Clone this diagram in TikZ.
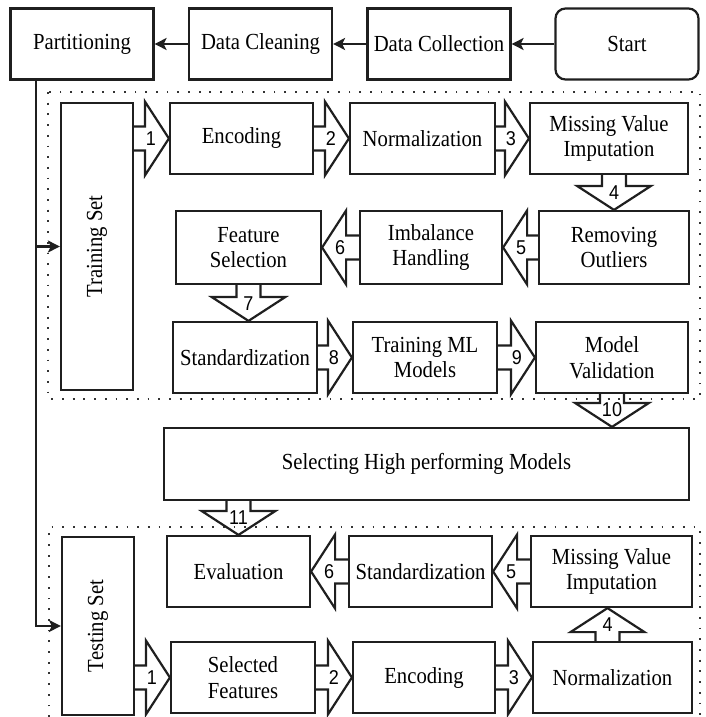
\documentclass[tikz,border=0pt]{standalone}
\usepackage{fontspec}
\setmainfont[FakeStretch=0.9]{Liberation Serif}
\newfontfamily\numfont[FakeStretch=0.9]{Liberation Sans}
\usepackage{tikz}
\usetikzlibrary{arrows.meta,calc,positioning}

\begin{document}
\begin{tikzpicture}[x=1pt,y=-1pt]
      \tikzstyle{box}=[draw=black!88, line width=2.2pt, minimum width=143pt, minimum height=71pt, inner sep=0pt, align=center, font=\rmfamily\fontsize{23}{25.5}\selectfont]
      \tikzstyle{start_box}=[box, rounded corners=10pt]
      \tikzstyle{set_box}=[box, minimum width=72pt]
      \tikzstyle{flow_line}=[draw=black!88, line width=2.2pt, -{Stealth[length=12pt,width=12pt,inset=3pt]}]
      \tikzstyle{frame}=[draw=black!80, line width=1.8pt, dash pattern=on 1.8pt off 8.9pt]
      \tikzstyle{num_text}=[inner sep=0pt, font=\numfont\fontsize{20}{20}\selectfont]
      \tikzstyle{fat_base}=[draw=black!88, line width=2.2pt, line join=miter]
      \tikzset{
        fat_right/.style={fat_base, to path={let \p1=(\tikztostart), \p2=(\tikztotarget) in
          (\x1,\y1+12pt) -- (\x2-24pt,\y1+12pt) -- (\x2-24pt,\y1+37pt) -- (\x2,\y1)
          -- (\x2-24pt,\y1-37pt) -- (\x2-24pt,\y1-12pt) -- (\x1,\y1-12pt)
          node[num_text] at (\x2-18pt,\y1) {#1}}},
        fat_left/.style={fat_base, to path={let \p1=(\tikztostart), \p2=(\tikztotarget) in
          (\x1,\y1+12pt) -- (\x2+24pt,\y1+12pt) -- (\x2+24pt,\y1+37pt) -- (\x2,\y1)
          -- (\x2+24pt,\y1-37pt) -- (\x2+24pt,\y1-12pt) -- (\x1,\y1-12pt)
          node[num_text] at (\x2+18pt,\y1) {#1}}},
        fat_down/.style={fat_base, to path={let \p1=(\tikztostart), \p2=(\tikztotarget) in
          (\x1-12pt,\y1) -- (\x1-12pt,\y2+24pt) -- (\x1-37pt,\y2+24pt) -- (\x1,\y2)
          -- (\x1+37pt,\y2+24pt) -- (\x1+12pt,\y2+24pt) -- (\x1+12pt,\y1)
          node[num_text] at (\x1,\y2+17pt) {#1}}},
        fat_up/.style={fat_base, to path={let \p1=(\tikztostart), \p2=(\tikztotarget) in
          (\x1-12pt,\y1) -- (\x1-12pt,\y2-24pt) -- (\x1-37pt,\y2-24pt) -- (\x1,\y2)
          -- (\x1+37pt,\y2-24pt) -- (\x1+12pt,\y2-24pt) -- (\x1+12pt,\y1)
          node[num_text] at (\x1,\y2-17pt) {#1}}}
      }

      \useasboundingbox (0,0) rectangle (705,717);

      % dotted frames
      \draw[frame] (48,92) rectangle (700,399);
      \draw[frame] (49,717) -- (49,527) -- (700,527) -- (700,717);

      % top row
      \node (part) [box] at (82,44) {Partitioning};
      \node (clean) [box] at (260.5,44) {Data Cleaning};
      \node (collect) [box] at (439,44) {Data Collection};
      \node (start) [start_box] at (627,44) {Start};

      \draw[flow_line] (start.west) -- (collect.east);
      \draw[flow_line] (collect.west) -- (clean.east);
      \draw[flow_line] (clean.west) -- (part.east);

      % training set
      \node (trainset) [set_box, minimum height=287pt] at (97,246.5) {\rotatebox{90}{Training Set}};
      \node (enc) [box] at (241.5,138.5) {Encoding};
      \node (norm) [box, minimum width=145pt] at (422.5,138.5) {Normalization};
      \node (mvi) [box, minimum width=158pt] at (609,138.5) {Missing Value\\Imputation};
      \node (fs) [box, minimum width=145pt, minimum height=73pt] at (248.5,247.5) {Feature\\Selection};
      \node (imb) [box, minimum width=142pt, minimum height=73pt] at (431,247.5) {Imbalance\\Handling};
      \node (ro) [box, minimum width=150pt, minimum height=73pt] at (614,247.5) {Removing\\Outliers};
      \node (std) [box, minimum width=144pt] at (245,357.5) {Standardization};
      \node (tml) [box, minimum width=144pt] at (425,357.5) {Training ML\\Models};
      \node (mv) [box, minimum width=152pt] at (612,357.5) {Model\\Validation};

      \node (sel) [box, minimum width=525pt, minimum height=72pt] at (426.5,464) {Selecting High performing Models};

      % testing set
      \node (testset) [set_box, minimum height=178pt] at (98,626) {\rotatebox{90}{Testing Set}};
      \node (ev) [box] at (238.5,571.5) {Evaluation};
      \node (tstd) [box] at (420.5,571.5) {Standardization};
      \node (tmvi) [box, minimum width=161pt] at (611.5,571.5) {Missing Value\\Imputation};
      \node (sf) [box, minimum width=144pt] at (243,677.5) {Selected\\Features};
      \node (tenc) [box, minimum width=142pt] at (424,677.5) {Encoding};
      \node (tnorm) [box, minimum width=159pt] at (612.5,677.5) {Normalization};

      % split of the data
      \coordinate (trunk) at (36,80);
      \draw[flow_line] (trunk) |- (trainset.west);
      \draw[flow_line] (trunk) |- (testset.west);

      % training steps
      \draw[fat_right=1] (trainset.east |- enc.west) to (enc.west);
      \draw[fat_right=2] (enc.east) to (norm.west);
      \draw[fat_right=3] (norm.east) to (mvi.west);
      \draw[fat_down=4] (ro.north |- mvi.south) to (ro.north);
      \draw[fat_left=5] (ro.west) to (imb.east);
      \draw[fat_left=6] (imb.west) to (fs.east);
      \draw[fat_down=7] (fs.south) to (fs.south |- std.north);
      \draw[fat_right=8] (std.east) to (tml.west);
      \draw[fat_right=9] (tml.east) to (mv.west);
      \draw[fat_down=10] (mv.south) to (mv.south |- sel.north);
      \draw[fat_down=11] (ev.north |- sel.south) to (ev.north);

      % testing steps
      \draw[fat_right=1] (testset.east |- sf.west) to (sf.west);
      \draw[fat_right=2] (sf.east) to (tenc.west);
      \draw[fat_right=3] (tenc.east) to (tnorm.west);
      \draw[fat_up=4] ([xshift=-5pt]tnorm.north) to (tmvi.south);
      \draw[fat_left=5] (tmvi.west) to (tstd.east);
      \draw[fat_left=6] (tstd.west) to (ev.east);
\end{tikzpicture}
\end{document}
